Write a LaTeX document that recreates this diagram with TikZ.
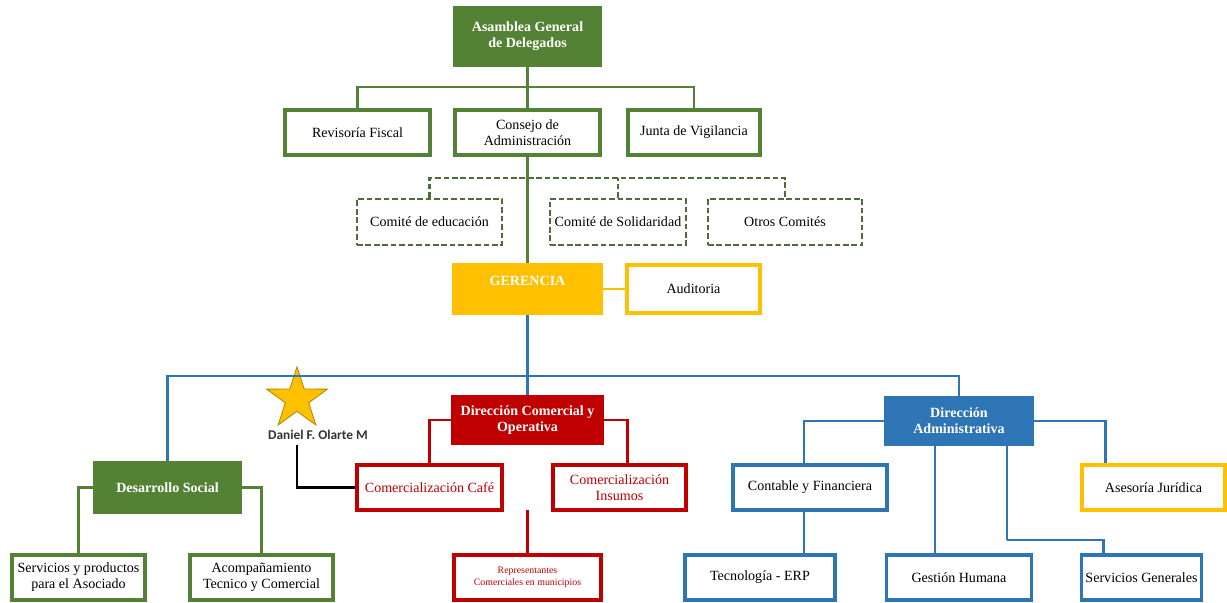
\documentclass[tikz,border=0pt]{standalone}
\usepackage{fontspec}
\setmainfont{Liberation Serif}
\newfontfamily\namefont{Carlito}
\usepackage{tikz}
\usetikzlibrary{shapes.geometric, positioning}
\definecolor{orggreen}{HTML}{548235}
\definecolor{orggold}{HTML}{FFC000}
\definecolor{orgred}{HTML}{C00000}
\definecolor{orgblue}{HTML}{2E75B6}
\definecolor{comgreen}{HTML}{4E6B3A}
\tikzset{
    wh/.style 2 args={minimum width=#1*0.025cm, minimum height=#2*0.025cm},
    unit/.style={rectangle, draw=#1, fill=white, line width=2.2pt, align=center, inner sep=1pt, font=\fontsize{10}{11.5}\selectfont},
    head/.style={rectangle, draw=#1, fill=#1, line width=2.2pt, text=white, align=center, inner sep=1pt, font=\fontsize{10}{11.5}\selectfont\bfseries},
    comite/.style={rectangle, draw=comgreen, fill=white, line width=1.8pt, dash pattern=on 4pt off 2pt, align=center, inner sep=1pt, font=\fontsize{10}{11.5}\selectfont},
    link/.style={draw=#1, line width=1.9pt},
    starmark/.style={star, star points=5, star point ratio=2.6, fill=orggold, draw=orggold!70!black, line width=0.6pt, inner sep=0pt},
    namelabel/.style={font=\namefont\fontsize{9.5}{10}\selectfont\bfseries, text=black!80}
}
\begin{document}
\begin{tikzpicture}[x=0.025cm, y=-0.025cm]
    \useasboundingbox (0,0) rectangle (1227,603);

    % Assembly and boards
    \node[head=orggreen, wh={145}{57}] (asam) at (527.5,36.5) {Asamblea General\\de Delegados};
    \node[unit=orggreen, wh={145}{45}] (rev) at (357.5,132.5) {Revisoría Fiscal};
    \node[unit=orggreen, wh={145}{45}] (cons) at (527.5,132.5) {Consejo de\\Administración};
    \node[unit=orggreen, wh={132}{45}] (junta) at (694,132.5) {Junta de Vigilancia};

    % Committees
    \node[comite, wh={145}{46}] (edu) at (429.5,222) {Comité de educación};
    \node[comite, wh={136}{46}] (sol) at (618,222) {Comité de Solidaridad};
    \node[comite, wh={154}{46}] (otros) at (785,222) {Otros Comités};

    % Management
    \node[head=orggold, wh={147}{48}] (ger) at (527.5,289) {\raisebox{11pt}{GERENCIA}};
    \node[unit=orggold, wh={133}{48}] (aud) at (693.5,289) {Auditoria};

    % Directions
    \node[head=orgred, wh={149}{46}] (dcom) at (527.5,420) {Dirección Comercial y\\Operativa};
    \node[head=orgblue, wh={146}{46}] (dadm) at (959,421) {Dirección\\Administrativa};
    \node[head=orggreen, wh={145}{49}] (dsoc) at (167.5,487.5) {Desarrollo Social};

    % Social area
    \node[unit=orggreen, wh={133}{45}] (serv) at (78.5,577.5) {Servicios y productos\\para el Asociado};
    \node[unit=orggreen, wh={143}{45}] (acom) at (261.5,577.5) {Acompañamiento\\Tecnico y Comercial};

    % Commercial area
    \node[unit=orgred, text=orgred, wh={145}{45}] (cafe) at (429.5,487.5) {Comercialización Café};
    \node[unit=orgred, text=orgred, wh={133}{45}] (insu) at (619.5,487.5) {Comercialización\\Insumos};
    \node[unit=orgred, text=orgred, wh={147}{45}, font=\fontsize{7}{8.5}\selectfont] (repr) at (527.5,577.5) {Representantes\\Comerciales en municipios};

    % Administrative area
    \node[unit=orgblue, wh={154}{45}] (cont) at (810,487.5) {Contable y Financiera};
    \node[unit=orggold, wh={143}{45}] (ases) at (1153.5,487.5) {Asesoría Jurídica};
    \node[unit=orgblue, wh={150}{45}] (tec) at (760,577.5) {Tecnología - ERP};
    \node[unit=orgblue, wh={145}{45}] (gest) at (959,577.5) {Gestión Humana};
    \node[unit=orgblue, wh={120}{45}] (sgen) at (1141.5,577.5) {Servicios Generales};

    % Star
    \node[starmark, minimum size=1.6cm] (star) at (297,399) {};
    \node[namelabel] (dan) at (318,435) {Daniel F. Olarte M};

    % Bus points
    \coordinate (topbus) at (527.5,87);
    \coordinate (combus) at (527.5,178);
    \coordinate (midbus) at (527.5,376);
    \coordinate (repstub) at (527.5,510);
    \coordinate (sgbend) at (1007,540);

    % Connectors
    \draw[link=orggreen] (asam.south) -- (cons.north);
    \draw[link=orggreen] (rev.north) |- (topbus) -| (junta.north);
    \draw[link=comgreen, dash pattern=on 4pt off 2pt] (edu.north) |- (combus) -| (otros.north);
    \draw[link=comgreen, dash pattern=on 4pt off 2pt] (sol.north) -- (sol.north |- combus);
    \draw[link=orggreen] (cons.south) -- (ger.north);
    \draw[link=orggold] (ger.east) -- (aud.west);
    \draw[link=orgblue] (ger.south) -- (dcom.north);
    \draw[link=orgblue] (dsoc.north) |- (midbus) -| (dadm.north);
    \draw[link=orggreen] (dsoc.west) -| (serv.north);
    \draw[link=orggreen] (dsoc.east) -| (acom.north);
    \draw[link=orgred] (dcom.west) -| (cafe.north);
    \draw[link=orgred] (dcom.east) -| ([xshift=0.2cm]insu.north);
    \draw[link=orgred] (repstub) -- (repr.north);
    \draw[link=black] (dan.south -| star.center) |- (cafe.west);
    \draw[link=orgblue] (dadm.west) -| ([xshift=-0.15cm]cont.north);
    \draw[link=orgblue] ([xshift=-0.15cm]cont.south) -- ([xshift=-0.15cm]cont.south |- tec.north);
    \draw[link=orgblue] (dadm.east) -| ([xshift=-1.2cm]ases.north);
    \draw[link=orgblue] ([xshift=-0.6cm]dadm.south) -- ([xshift=-0.6cm]gest.north);
    \draw[link=orgblue] ([xshift=1.2cm]dadm.south) |- (sgbend) -| ([xshift=-0.95cm]sgen.north);
\end{tikzpicture}
\end{document}
